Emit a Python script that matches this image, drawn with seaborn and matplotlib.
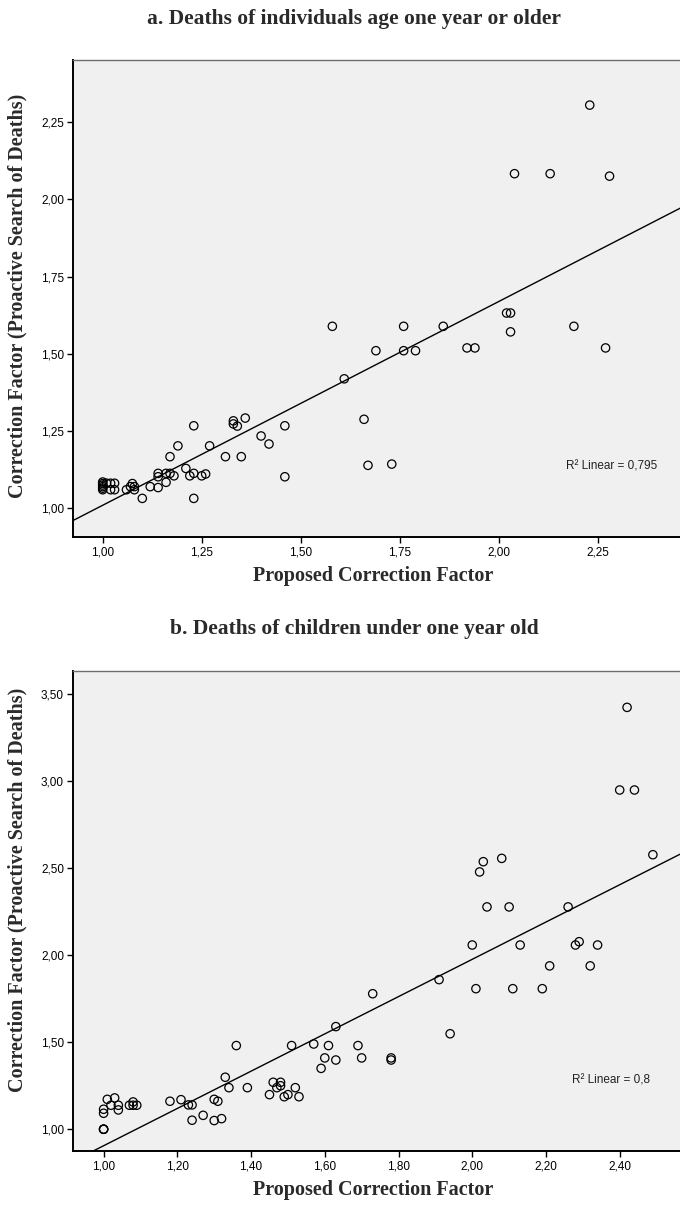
import numpy as np
import pandas as pd
import matplotlib
matplotlib.use("Agg")
import matplotlib.pyplot as plt
import seaborn as sns
from matplotlib.ticker import FixedLocator, FuncFormatter

# ---------------- data: panel a (age one year or older) ----------------
adult_proposed = [2.23, 2.04, 2.13, 2.28, 1.58, 1.76, 1.86, 2.02, 2.03, 2.03,
                  2.19, 1.69, 1.76, 1.79, 1.92, 1.94, 2.27, 1.61, 1.66, 1.67,
                  1.73, 1.00, 1.00, 1.00, 1.00, 1.00, 1.00, 1.01, 1.02, 1.03,
                  1.02, 1.03, 1.06, 1.07, 1.075, 1.08, 1.08, 1.10, 1.12, 1.14,
                  1.14, 1.14, 1.16, 1.16, 1.17, 1.18, 1.17, 1.19, 1.21, 1.22,
                  1.23, 1.23, 1.23, 1.25, 1.26, 1.27, 1.31, 1.33, 1.33, 1.34,
                  1.35, 1.36, 1.40, 1.42, 1.46, 1.46]
adult_proactive = [2.305, 2.083, 2.083, 2.075, 1.589, 1.589, 1.589, 1.632, 1.632, 1.571,
                   1.589, 1.510, 1.510, 1.510, 1.519, 1.519, 1.519, 1.419, 1.288, 1.139,
                   1.143, 1.060, 1.065, 1.070, 1.075, 1.080, 1.085, 1.081, 1.081, 1.081,
                   1.060, 1.060, 1.060, 1.070, 1.080, 1.070, 1.060, 1.032, 1.070, 1.113,
                   1.102, 1.067, 1.084, 1.113, 1.113, 1.105, 1.167, 1.202, 1.129, 1.105,
                   1.113, 1.267, 1.032, 1.105, 1.111, 1.202, 1.167, 1.283, 1.273, 1.266,
                   1.167, 1.292, 1.234, 1.208, 1.267, 1.102]

# ---------------- data: panel b (children under one year) ----------------
child_proposed = [1.00, 1.00, 1.00, 1.00, 1.00, 1.01, 1.02, 1.03, 1.04, 1.04,
                  1.07, 1.08, 1.08, 1.09, 1.18, 1.21, 1.23, 1.24, 1.24, 1.27,
                  1.30, 1.31, 1.30, 1.32, 1.33, 1.34, 1.36, 1.39, 1.45, 1.46,
                  1.47, 1.48, 1.48, 1.49, 1.50, 1.52, 1.53, 1.51, 1.57, 1.61,
                  1.63, 1.59, 1.60, 1.63, 1.69, 1.70, 1.78, 1.78, 1.73, 1.91,
                  1.94, 2.01, 2.11, 2.19, 2.00, 2.13, 2.28, 2.29, 2.34, 2.21,
                  2.32, 2.04, 2.10, 2.26, 2.02, 2.03, 2.08, 2.49, 2.40, 2.44,
                  2.42]
child_proactive = [1.000, 1.000, 1.000, 1.092, 1.115, 1.172, 1.138, 1.180, 1.138, 1.111,
                   1.138, 1.157, 1.138, 1.138, 1.161, 1.170, 1.140, 1.140, 1.052, 1.080,
                   1.172, 1.161, 1.050, 1.061, 1.299, 1.239, 1.481, 1.239, 1.199, 1.270,
                   1.239, 1.270, 1.250, 1.187, 1.199, 1.239, 1.187, 1.481, 1.490, 1.481,
                   1.590, 1.350, 1.410, 1.398, 1.481, 1.410, 1.410, 1.398, 1.779, 1.860,
                   1.549, 1.808, 1.808, 1.808, 2.059, 2.059, 2.059, 2.078, 2.059, 1.939,
                   1.939, 2.278, 2.278, 2.278, 2.479, 2.538, 2.557, 2.578, 2.950, 2.950,
                   3.425]

adult_ticks_x = [1.00, 1.25, 1.50, 1.75, 2.00, 2.25]
adult_ticks_y = [1.00, 1.25, 1.50, 1.75, 2.00, 2.25]
child_ticks_x = [1.00, 1.20, 1.40, 1.60, 1.80, 2.00, 2.20, 2.40]
child_ticks_y = [1.00, 1.50, 2.00, 2.50, 3.00, 3.50]

title_a = "a. Deaths of individuals age one year or older"
title_b = "b. Deaths of children under one year old"
x_title = "Proposed Correction Factor"
y_title = "Correction Factor (Proactive Search of Deaths)"
r2_a = "R² Linear = 0,795"
r2_b = "R² Linear = 0,8"

# ---------------- styling ----------------
sns.set_style("ticks")
plt.rcParams['font.family'] = ['Liberation Sans', 'DejaVu Sans']
serif = ['Liberation Serif', 'DejaVu Serif']
text_col = '#2a2a2a'

W, H = 680, 1208
fig = plt.figure(figsize=(W / 100, H / 100), dpi=100)
fig.patch.set_facecolor('white')


def fig_box(x0, y0, x1, y1):
    return [x0 / W, 1 - y1 / H, (x1 - x0) / W, (y1 - y0) / H]


def comma_fmt(v, pos):
    return f"{v:.2f}".replace('.', ',')


def panel(ax, xs, ys, xlim, ylim, xt, yt, r2, r2pos):
    ax.set_facecolor('#F0F0F0')
    ax.set_xlim(*xlim)
    ax.set_ylim(*ylim)
    df = pd.DataFrame({'x': xs, 'y': ys})
    sns.regplot(data=df, x='x', y='y', ax=ax, ci=None, truncate=False,
                color='black',
                scatter_kws=dict(s=36, facecolors='none', edgecolors='black',
                                 linewidths=0.9, alpha=1, zorder=3),
                line_kws=dict(color='black', lw=1.0, zorder=2))
    ax.set_xlim(*xlim)
    ax.set_ylim(*ylim)
    ax.xaxis.set_major_locator(FixedLocator(xt))
    ax.yaxis.set_major_locator(FixedLocator(yt))
    ax.xaxis.set_major_formatter(FuncFormatter(comma_fmt))
    ax.yaxis.set_major_formatter(FuncFormatter(comma_fmt))
    ax.tick_params(direction='out', length=4.5, width=1.0, labelsize=8.5,
                   colors='black', pad=2)
    ax.set_xlabel('')
    ax.set_ylabel('')
    for s in ['left', 'bottom']:
        ax.spines[s].set_color('black')
        ax.spines[s].set_linewidth(1.4)
    ax.spines['top'].set_color('#6e6e6e')
    ax.spines['top'].set_linewidth(1.0)
    ax.spines['right'].set_visible(False)
    ax.text(r2pos[0], r2pos[1], r2, ha='right', va='center', fontsize=8.5,
            color='#222222')


ax1 = fig.add_axes(fig_box(73, 60, 682, 537))
panel(ax1, adult_proposed, adult_proactive, (0.925, 2.463), (0.907, 2.451),
      adult_ticks_x, adult_ticks_y, r2_a, (2.40, 1.135))

ax2 = fig.add_axes(fig_box(73, 671, 682, 1151))
panel(ax2, child_proposed, child_proactive, (0.917, 2.569), (0.875, 3.634),
      child_ticks_x, child_ticks_y, r2_b, (2.483, 1.283))

# titles and axis titles
fig.text(354 / W, 1 - 19 / H, title_a, ha='center', va='center',
         fontsize=15.5, fontweight='bold', family=serif, color=text_col)
fig.text(354 / W, 1 - 629 / H, title_b, ha='center', va='center',
         fontsize=15.5, fontweight='bold', family=serif, color=text_col)
fig.text(373 / W, 1 - 576 / H, x_title, ha='center', va='center',
         fontsize=14.5, fontweight='bold', family=serif, color=text_col)
fig.text(373 / W, 1 - 1190 / H, x_title, ha='center', va='center',
         fontsize=14.5, fontweight='bold', family=serif, color=text_col)
fig.text(17 / W, 1 - 296 / H, y_title, ha='center', va='center', rotation=90,
         fontsize=14.5, fontweight='bold', family=serif, color=text_col)
fig.text(17 / W, 1 - 890 / H, y_title, ha='center', va='center', rotation=90,
         fontsize=14.5, fontweight='bold', family=serif, color=text_col)

fig.savefig('out.png', dpi=100)
